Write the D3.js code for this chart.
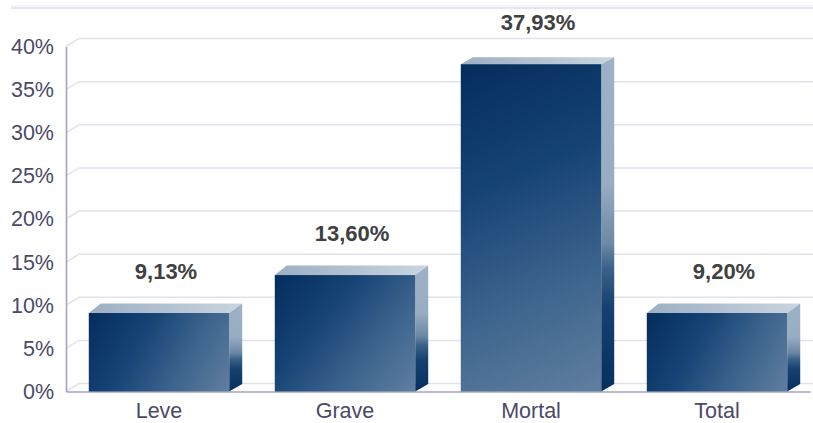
<!DOCTYPE html>
<html><head><meta charset="utf-8">
<script src="https://cdnjs.cloudflare.com/ajax/libs/d3/7.8.5/d3.min.js"></script>
<style>
html,body{margin:0;padding:0;background:#fff}
svg{display:block}
text{font-family:"Liberation Sans",Arial,sans-serif}
</style></head><body>
<svg id="c" width="813" height="423"></svg>
<script>
const categories = ["Leve","Grave","Mortal","Total"];
const values = [9.13,13.60,37.93,9.20];
const barHeights = [9.1,13.5,37.95,9.1];
const valueLabels = ["9,13%","13,60%","37,93%","9,20%"];
const tickValues = [0,5,10,15,20,25,30,35,40];

const svg = d3.select("#c");
const depthX = 13, depthY = 8, sideBottomY = 7.5;
const topDepth = d => d.v > 30 ? 7 : 9.5;
const left = 66, right = 810, base = 391.5, top40 = 46.5;
const y = d3.scaleLinear().domain([0,40]).range([base, top40]);
const x = d3.scaleBand().domain(categories).range([left,right]).paddingInner(0.245).paddingOuter(0.1225);

const data = categories.map((c,i)=>({c,i,v:values[i],h:barHeights[i],l:valueLabels[i]}));

const defs = svg.append("defs");
function grad(id,x1,y1,x2,y2,stops,units){
  const g = defs.append("linearGradient").attr("id",id)
    .attr("x1",x1).attr("y1",y1).attr("x2",x2).attr("y2",y2);
  if(units) g.attr("gradientUnits",units);
  stops.forEach(s=>g.append("stop").attr("offset",s[0]).attr("stop-color",s[1]));
}
const frontStops = [[0,"#032d5c"],[0.35,"#164375"],[0.7,"#3f668e"],[1,"#607ea0"]];
data.forEach(d=>{
  grad("front"+d.i, x(d.c), y(d.h), x(d.c)+x.bandwidth(), y(0), frontStops, "userSpaceOnUse");
});
grad("side",0,0,0,1,[[0,"#9db1c6"],[0.38,"#98acc2"],[0.56,"#6b88a5"],[0.63,"#3a6289"],[0.75,"#15406f"],[1,"#042f5e"]]);
grad("top",0,0,1,0,[[0,"#9cafc4"],[1,"#c9d5e0"]]);

// frame band at the top
svg.append("line").attr("x1",11).attr("x2",813).attr("y1",6).attr("y2",6).attr("stroke","#f0eff6").attr("stroke-width",1.5);
svg.append("line").attr("x1",11).attr("x2",813).attr("y1",8).attr("y2",8).attr("stroke","#dedce9").attr("stroke-width",1.3);

// gridlines
const grid = svg.append("g").attr("fill","none").attr("stroke","#e3e1ec").attr("stroke-width",1.5);
grid.selectAll("path").data(tickValues).join("path")
  .attr("d",d=>`M${left},${y(d)}L${left+depthX},${y(d)-depthY}L813,${y(d)-depthY}`);

// axes
const yAxis = d3.axisLeft(y).tickValues(tickValues).tickFormat(d=>d+"%").tickSize(0).tickPadding(12);
const gy = svg.append("g").attr("transform",`translate(${left},0)`).call(yAxis);
gy.select(".domain").attr("stroke","#a3a3c4").attr("stroke-width",1.6);
gy.selectAll("text").attr("font-size",21.5).attr("fill","#4a4a66").attr("font-family","Liberation Sans");

const xAxis = d3.axisBottom(x).tickSize(0).tickPadding(11.2);
const gx = svg.append("g").attr("transform",`translate(0,${base})`).call(xAxis);
gx.select(".domain").attr("stroke","#a3a3c4").attr("stroke-width",1.6);
gx.selectAll("text").attr("font-size",21.5).attr("fill","#4a4a66").attr("font-family","Liberation Sans");

// bars
const bars = svg.selectAll("g.bar").data(data).join("g").attr("class","bar");
bars.append("path").attr("fill","url(#top)")
  .attr("d",d=>{const a=x(d.c),b=a+x.bandwidth(),t=y(d.h),k=topDepth(d);
    return `M${a},${t}L${a+12},${t-k}L${b+depthX},${t-k}L${b},${t}Z`;});
bars.append("path").attr("fill","url(#side)")
  .attr("d",d=>{const b=x(d.c)+x.bandwidth(),t=y(d.h),k=topDepth(d);
    return `M${b},${t}L${b+depthX},${t-k}L${b+depthX},${y(0)-sideBottomY}L${b},${y(0)}Z`;});
bars.append("rect").attr("fill",d=>`url(#front${d.i})`)
  .attr("x",d=>x(d.c)).attr("y",d=>y(d.h))
  .attr("width",x.bandwidth()).attr("height",d=>y(0)-y(d.h));
bars.append("text").text(d=>d.l)
  .attr("x",d=>x(d.c)+x.bandwidth()/2+depthX/2+0.5)
  .attr("y",d=>y(d.h)-depthY-32)
  .attr("text-anchor","middle").attr("dominant-baseline","middle")
  .attr("font-size",22).attr("font-weight","bold").attr("fill","#404040");
</script>
</body></html>
